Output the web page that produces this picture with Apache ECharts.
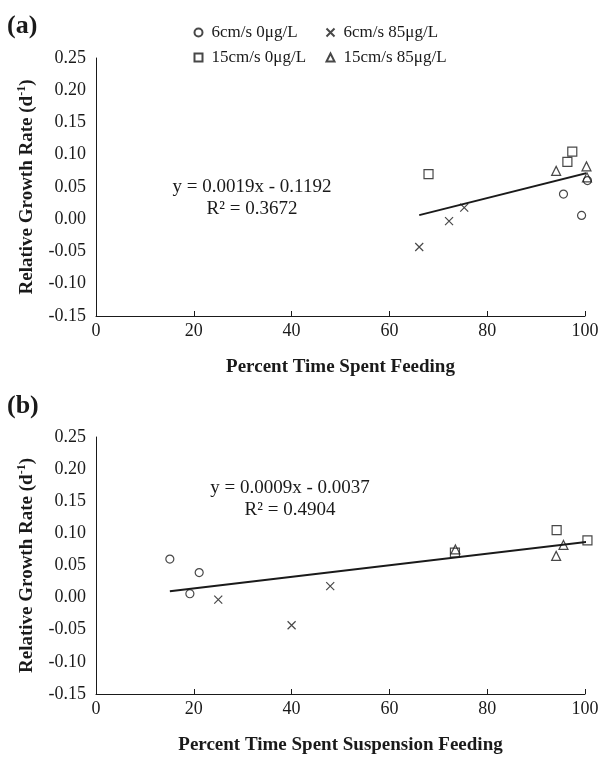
<!DOCTYPE html>
<html>
<head>
<meta charset="utf-8">
<script src="https://cdn.jsdelivr.net/npm/echarts@6/dist/echarts.min.js"></script>
<style>html,body{margin:0;padding:0;background:#fff}#c{width:602px;height:757px}</style>
</head>
<body>
<div id="c"></div>
<script>
// ---- data ----
const seriesNames = ['6cm/s 0μg/L', '6cm/s 85μg/L', '15cm/s 0μg/L', '15cm/s 85μg/L'];
// relative growth rate (d^-1) per group
const rgr6_0   = [0.039, 0.006, 0.060];
const rgr6_85  = [-0.043, -0.003, 0.018];
const rgr15_0  = [0.070, 0.089, 0.105];
const rgr15_85 = [0.075, 0.082, 0.065];
// percent time spent feeding (panel a)
const feed6_0   = [95.6, 99.3, 100.5];
const feed6_85  = [66.1, 72.2, 75.3];
const feed15_0  = [68.0, 96.4, 97.4];
const feed15_85 = [94.1, 100.3, 100.4];
// percent time spent suspension feeding (panel b)
const susp6_0   = [21.1, 19.2, 15.1];
const susp6_85  = [40.0, 25.0, 47.9];
const susp15_0  = [73.4, 100.5, 94.2];
const susp15_85 = [73.5, 95.6, 94.1];
// trendlines (from the displayed equations)
const trendA = {slope: 0.0019, intercept: -0.1192, r2: 0.3672};
const trendB = {slope: 0.0009, intercept: -0.0037, r2: 0.4904};
const yTicks = {min: -0.15, max: 0.25, interval: 0.05};
const xTicks = {min: 0, max: 100, interval: 20};

const FONT = '"Liberation Serif", "Times New Roman", serif';
const BLACK = '#1a1a1a';

function zip(xs, ys){ return xs.map((x,i)=>[x, ys[i]]); }
function trendData(t, xs){
  const lo = Math.min(...xs), hi = Math.max(...xs);
  return [[lo, t.slope*lo + t.intercept], [hi, t.slope*hi + t.intercept]];
}
const symbols = ['circle', 'path://M0 0L10 10M10 0L0 10', 'rect', 'triangle'];
const sizes = [8, 8, 9, 9];

function xAxis(gi, name){
  return {
    type: 'value', gridIndex: gi, min: xTicks.min, max: xTicks.max, interval: xTicks.interval,
    name: name, nameLocation: 'middle', nameGap: 42,
    nameTextStyle: {fontFamily: FONT, fontWeight: 'bold', fontSize: 19, color: BLACK},
    axisLine: {show: true, onZero: false, lineStyle: {color: BLACK, width: 1}},
    axisTick: {show: true, inside: true, length: 5, lineStyle: {color: BLACK}},
    axisLabel: {fontFamily: FONT, fontSize: 18, color: BLACK, margin: 6},
    splitLine: {show: false}
  };
}
function yAxis(gi){
  return {
    type: 'value', gridIndex: gi, min: yTicks.min, max: yTicks.max, interval: yTicks.interval,
    name: '{t|Relative Growth Rate (d}{s|-1}{t|)}', nameLocation: 'middle', nameGap: 58,
    nameTextStyle: {
      rich: {
        t: {fontFamily: FONT, fontWeight: 'bold', fontSize: 19, color: BLACK, lineHeight: 22},
        s: {fontFamily: FONT, fontWeight: 'bold', fontSize: 12, color: BLACK, verticalAlign: 'top', lineHeight: 22}
      }
    },
    axisLine: {show: true, lineStyle: {color: BLACK, width: 1}},
    axisTick: {show: false},
    axisLabel: {fontFamily: FONT, fontSize: 18, color: BLACK, margin: 10, formatter: v => v.toFixed(2)},
    splitLine: {show: false}
  };
}
function scatter(name, i, gi, data){
  return {
    type: 'scatter', name: name, xAxisIndex: gi, yAxisIndex: gi, data: data,
    symbol: symbols[i], symbolSize: sizes[i], clip: false,
    itemStyle: {color: 'none', borderColor: BLACK, borderWidth: 1.2},
    z: 3
  };
}
const groupsA = [zip(feed6_0, rgr6_0), zip(feed6_85, rgr6_85), zip(feed15_0, rgr15_0), zip(feed15_85, rgr15_85)];
const groupsB = [zip(susp6_0, rgr6_0), zip(susp6_85, rgr6_85), zip(susp15_0, rgr15_0), zip(susp15_85, rgr15_85)];
const allFeed = [].concat(feed6_0, feed6_85, feed15_0, feed15_85);
const allSusp = [].concat(susp6_0, susp6_85, susp15_0, susp15_85);

const series = [];
seriesNames.forEach((n,i)=>series.push(scatter(n, i, 0, groupsA[i])));
seriesNames.forEach((n,i)=>series.push(scatter(n, i, 1, groupsB[i])));
[[trendA, allFeed, 0], [trendB, allSusp, 1]].forEach(([t, xs, gi]) => series.push({
  type: 'line', name: 'trend' + gi, xAxisIndex: gi, yAxisIndex: gi, clip: false,
  data: trendData(t, xs), symbol: 'none', silent: true,
  lineStyle: {color: BLACK, width: 2}, z: 2
}));

const legendText = {fontFamily: FONT, fontSize: 17, color: BLACK, padding: [0, 0, 0, 4]};
const eqFont = '19px ' + FONT;
const chart = echarts.init(document.getElementById('c'), null, {renderer: 'canvas'});
chart.setOption({
  animation: false,
  backgroundColor: '#fff',
  grid: [
    {left: 96, top: 58, width: 489, height: 258},
    {left: 96, top: 437, width: 489, height: 257}
  ],
  xAxis: [xAxis(0, 'Percent Time Spent Feeding'), xAxis(1, 'Percent Time Spent Suspension Feeding')],
  yAxis: [yAxis(0), yAxis(1)],
  legend: [
    {data: [seriesNames[0], seriesNames[2]], orient: 'vertical', left: 192, top: 24, itemGap: 8,
     itemWidth: 8, itemHeight: 8, textStyle: legendText, selectedMode: false, padding: 0},
    {data: [seriesNames[1], seriesNames[3]], orient: 'vertical', left: 324, top: 24, itemGap: 8,
     itemWidth: 8, itemHeight: 8, textStyle: legendText, selectedMode: false, padding: 0}
  ],
  graphic: [
    {type: 'text', left: 7, top: 13, style: {text: '(a)', font: 'bold 26px ' + FONT, fill: BLACK}},
    {type: 'text', left: 7, top: 393, style: {text: '(b)', font: 'bold 26px ' + FONT, fill: BLACK}},
    {type: 'text', x: 252, y: 187, style: {text: 'y = ' + trendA.slope.toFixed(4) + 'x - ' + Math.abs(trendA.intercept).toFixed(4), font: eqFont, fill: BLACK, align: 'center', verticalAlign: 'middle'}},
    {type: 'text', x: 252, y: 209, style: {text: 'R² = ' + trendA.r2.toFixed(4), font: eqFont, fill: BLACK, align: 'center', verticalAlign: 'middle'}},
    {type: 'text', x: 290, y: 488, style: {text: 'y = ' + trendB.slope.toFixed(4) + 'x - ' + Math.abs(trendB.intercept).toFixed(4), font: eqFont, fill: BLACK, align: 'center', verticalAlign: 'middle'}},
    {type: 'text', x: 290, y: 510, style: {text: 'R² = ' + trendB.r2.toFixed(4), font: eqFont, fill: BLACK, align: 'center', verticalAlign: 'middle'}}
  ],
  series: series
});
</script>
</body>
</html>
